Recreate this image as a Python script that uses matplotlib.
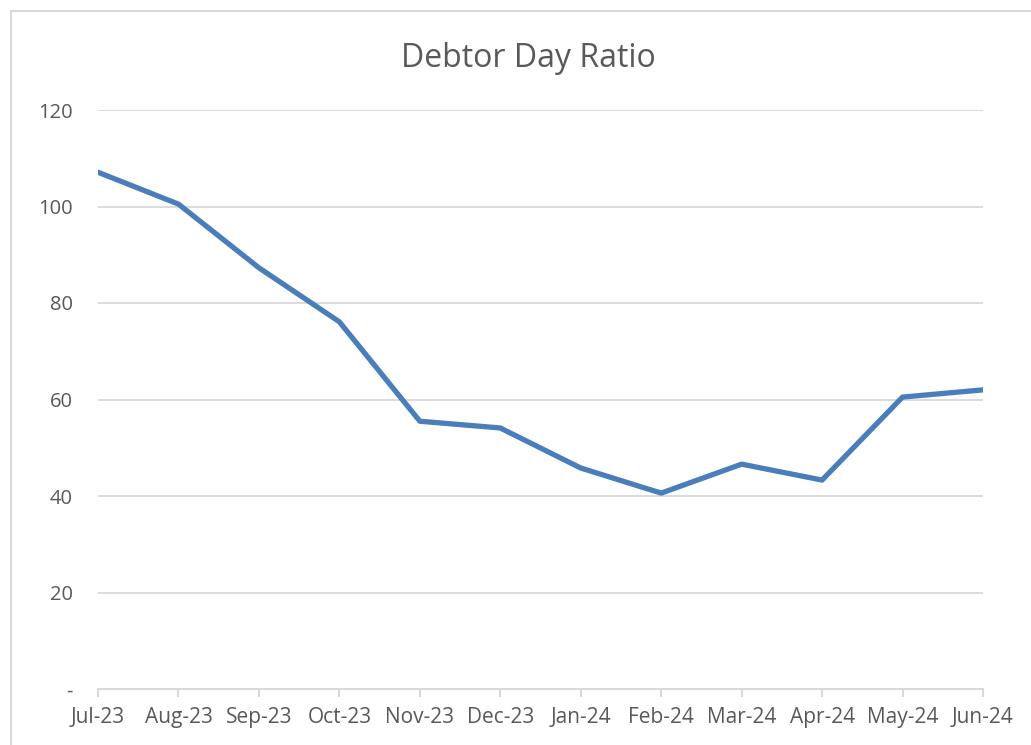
import matplotlib
matplotlib.use("Agg")
import matplotlib.pyplot as plt
from matplotlib.patches import Rectangle

months = ["Jul-23", "Aug-23", "Sep-23", "Oct-23", "Nov-23", "Dec-23",
          "Jan-24", "Feb-24", "Mar-24", "Apr-24", "May-24", "Jun-24"]
ratio = [107.1, 100.5, 87.3, 76.1, 55.5, 54.1, 45.8, 40.6, 46.6, 43.3, 60.5, 62.0]
yticks = [0, 20, 40, 60, 80, 100, 120]
ytick_labels = ["-", "20", "40", "60", "80", "100", "120"]

plt.rcParams['font.family'] = ['Open Sans', 'DejaVu Sans']
W, H = 1031, 745
fig = plt.figure(figsize=(W / 100, H / 100), dpi=100)
fig.patch.set_facecolor('white')

# chart area border (cropped on right/bottom)
fig.add_artist(Rectangle((11 / W, -0.1), 1.2, 1 - 11 / H + 0.1, transform=fig.transFigure,
                         fill=False, edgecolor='#D9D9D9', linewidth=1.5))

ax = fig.add_axes([98 / W, 1 - 689 / H, (983 - 98) / W, (689 - 110) / H])
x = list(range(len(months)))
ax.plot(x, ratio, color='#4A7EBB', linewidth=3.8, solid_capstyle='round', zorder=3)

ax.set_xlim(0, len(months) - 1)
ax.set_ylim(0, 120)
ax.set_yticks(yticks)
ax.set_yticklabels(ytick_labels)
ax.set_xticks(x)
ax.set_xticklabels(months)

ax.grid(axis='y', color='#D9D9D9', linewidth=1.3)
ax.set_axisbelow(True)
for s in ['top', 'right', 'left']:
    ax.spines[s].set_visible(False)
ax.spines['bottom'].set_color('#D9D9D9')
ax.spines['bottom'].set_linewidth(1.5)
ax.spines['bottom'].set_zorder(2)

ax.tick_params(axis='y', length=0, pad=18, labelsize=14.5, labelcolor='#595959')
ax.tick_params(axis='x', length=6, width=1.5, color='#D9D9D9', pad=7,
               labelsize=15, labelcolor='#595959')
for lbl in ax.get_xticklabels():
    lbl.set_clip_on(False)

fig.text(528 / W, 1 - 67 / H, "Debtor Day Ratio", ha='center', va='baseline',
         fontsize=23, color='#595959')

fig.savefig("out.png", dpi=100)
